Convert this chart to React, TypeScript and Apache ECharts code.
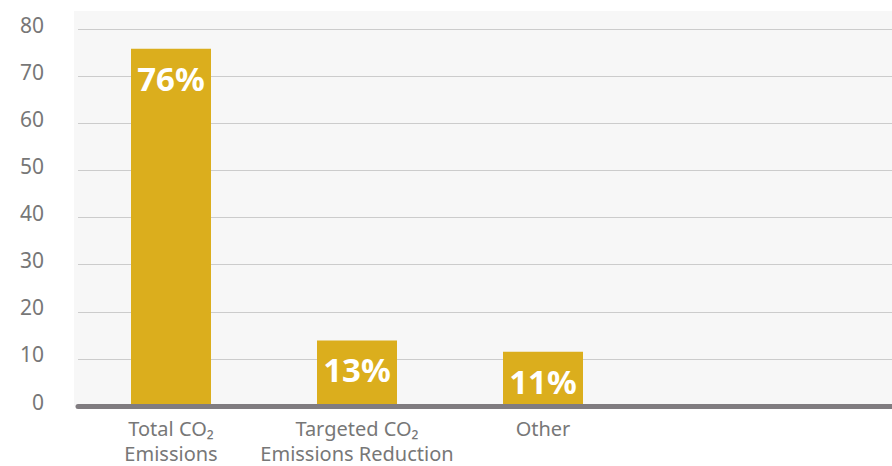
import React, { useEffect, useRef } from "react";
import * as echarts from "echarts";

const categories = ["Total CO₂\nEmissions", "Targeted CO₂\nEmissions Reduction", "Other"];
const emptySlots = ["", ""];
const values = [75.8, 13.9, 11.5];
const barLabels = ["76%", "13%", "11%"];
const yTicks = [0, 10, 20, 30, 40, 50, 60, 70, 80];

export default function App() {
  const ref = useRef<HTMLDivElement>(null);
  useEffect(() => {
    if (!ref.current) return;
    const chart = echarts.init(ref.current, null, { renderer: "svg" });
    const font = "'Noto Sans', 'Open Sans', sans-serif";
    chart.setOption({
      animation: false,
      graphic: [
        {
          type: "rect",
          z: -10,
          silent: true,
          shape: { x: 74, y: 11, width: 818, height: 395 },
          style: { fill: "#f7f7f7" },
        },
      ],
      grid: { left: 78, top: 29, bottom: 60, right: -116, outerBoundsMode: "none", containLabel: false },
      xAxis: {
        type: "category",
        data: [...categories, ...emptySlots],
        axisLine: { show: true, lineStyle: { color: "#807c80", width: 5 } },
        axisTick: { show: false },
        axisLabel: {
          color: "#777777",
          fontSize: 20,
          fontFamily: font,
          lineHeight: 25,
          margin: 10,
          interval: 0,
        },
        z: 5,
      },
      yAxis: {
        type: "value",
        min: yTicks[0],
        max: yTicks[yTicks.length - 1],
        interval: 10,
        axisLine: { show: false },
        axisTick: { show: false },
        splitLine: { show: true, lineStyle: { color: "#cccccc", width: 1 } },
        axisLabel: {
          color: "#777777",
          fontSize: 21,
          fontFamily: font,
          margin: 34,
          verticalAlign: "bottom",
          lineHeight: 9,
        },
      },
      series: [
        {
          type: "bar",
          data: values,
          barWidth: 80,
          itemStyle: { color: "#dbae1d" },
          label: {
            show: true,
            position: "insideTop",
            distance: 13,
            color: "#ffffff",
            fontWeight: "bold",
            fontSize: 33,
            fontFamily: font,
            formatter: (p: any) => barLabels[p.dataIndex],
          },
        },
      ],
    });
    return () => chart.dispose();
  }, []);
  return (
    <div
      ref={ref}
      style={{ position: "absolute", left: 0, top: 0, width: 892, height: 466 }}
    />
  );
}
